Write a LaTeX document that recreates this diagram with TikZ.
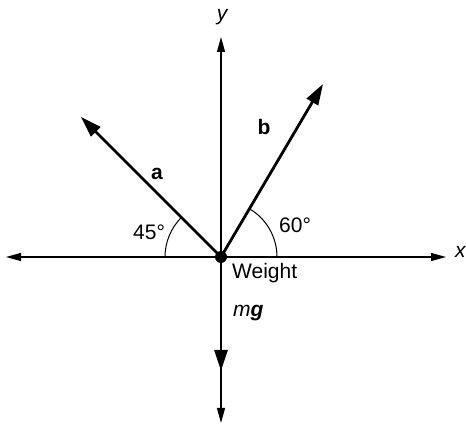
\documentclass[tikz,border=0pt]{standalone}
\usepackage{fontspec}
\setmainfont{Liberation Sans}
\usetikzlibrary{arrows.meta}
\begin{document}
\begin{tikzpicture}[x=1pt,y=-1pt,
  axis/.style={line width=1.2pt,-{Triangle[length=15pt,width=8pt]}},
  vec/.style={line width=2.8pt,-{Triangle[length=21pt,width=13pt]}},
  angarc/.style={line width=1pt},
  lbl/.style={inner sep=0pt,font=\fontsize{21}{25}\selectfont}]
\useasboundingbox (0,0) rectangle (466,427);
\coordinate (O) at (221,257);
\coordinate (xl) at (6,257);
\coordinate (xr) at (446,257);
\coordinate (yt) at (221,37);
\coordinate (yb) at (221,423);
\coordinate (ta) at (81,117);
\coordinate (tb) at (323,84);
\coordinate (tg) at (221,371);
% axes
\draw[axis] (O) -- (xl);
\draw[axis] (O) -- (xr);
\draw[axis] (O) -- (yt);
\draw[axis] (O) -- (yb);
% angle arcs
\draw[angarc] ([xshift=-56pt]O) arc[start angle=180,end angle=135,radius=56pt];
\draw[angarc] ([xshift=56pt]O) arc[start angle=0,end angle=60,radius=56pt];
% vectors
\draw[vec] (O) -- (ta);
\draw[vec] (O) -- (tb);
\draw[vec] (O) -- (tg);
\node[circle,fill=black,inner sep=0pt,minimum size=12pt] (dot) at (O) {};
% labels
\node[lbl,anchor=base west] (lx) at (455,258) {\itshape x};
\node[lbl,anchor=base] (ly) at (222,21) {\itshape y};
\node[lbl,anchor=base] (la) at (157,180) {\bfseries a};
\node[lbl,anchor=base] (lb) at (264,135) {\bfseries b};
\node[lbl,anchor=base west] (l45) at (133,240) {45°};
\node[lbl,anchor=base west] (l60) at (279,233) {60°};
\node[lbl,anchor=base west] (lw) at (232,279) {Weight};
\node[lbl,anchor=base west] (lmg) at (233,317) {\itshape m\bfseries g};
\end{tikzpicture}
\end{document}
